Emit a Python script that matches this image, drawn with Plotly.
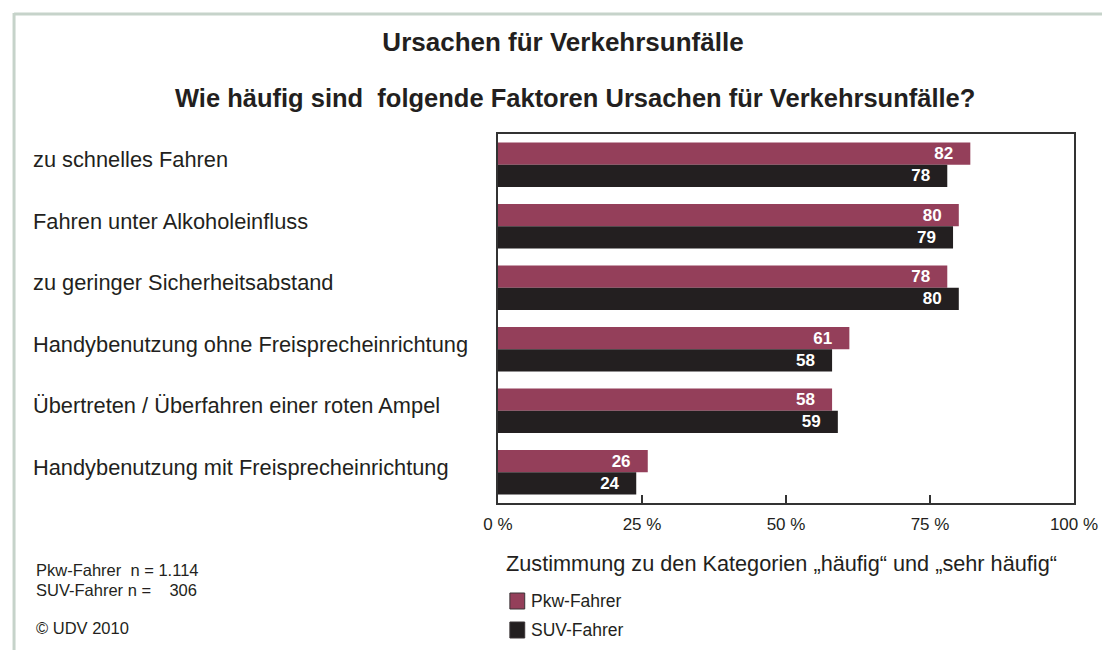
import plotly.graph_objects as go

categories = [
    "zu schnelles Fahren",
    "Fahren unter Alkoholeinfluss",
    "zu geringer Sicherheitsabstand",
    "Handybenutzung ohne Freisprecheinrichtung",
    "Übertreten / Überfahren einer roten Ampel",
    "Handybenutzung mit Freisprecheinrichtung",
]
pkw = [82, 80, 78, 61, 58, 26]
suv = [78, 79, 80, 58, 59, 24]
series_names = ["Pkw-Fahrer", "SUV-Fahrer"]
tick_vals = [0, 25, 50, 75, 100]
tick_text = ["0 %", "25 %", "50 %", "75 %", "100 %"]

PKW_COLOR = "#943f5a"
SUV_COLOR = "#231f20"
TEXT = "#231f20"
FONT = "Liberation Sans, Arial, sans-serif"

# page body margin offset (8px) compensation
OFF = 8
W, H = 1110 - OFF, 650 - OFF
L, T = 498 - OFF, 134 - OFF
pw, ph = 582, 369
R = W - L - pw
B = H - T - ph


def px(x):
    return (x - OFF - L) / pw


def py(y):
    return (H - B - (y - OFF)) / ph


fig = go.Figure()
pad = "\u00a0\u00a0\u00a0"
for name, vals, col in [(series_names[0], pkw, PKW_COLOR), (series_names[1], suv, SUV_COLOR)]:
    fig.add_trace(go.Bar(
        y=categories, x=vals, orientation="h", name=name,
        marker=dict(color=col, line=dict(width=0)),
        text=[f"{v}{pad}" for v in vals], textposition="inside", insidetextanchor="end",
        textfont=dict(color="white", size=17, family=FONT, weight="bold"),
        constraintext="none",
        hoverinfo="skip", showlegend=False,
    ))

annotations = []
for c in categories:
    annotations.append(dict(
        x=px(26), xref="paper", y=c, yref="y", yshift=5,
        text=c, showarrow=False, xanchor="left", yanchor="middle",
        font=dict(size=21.8, color=TEXT, family=FONT),
    ))

annotations += [
    dict(x=px(576), xref="paper", y=py(98), yref="paper",
         text="<b>Wie häufig sind  folgende Faktoren Ursachen für Verkehrsunfälle?</b>",
         showarrow=False, xanchor="center", yanchor="middle",
         font=dict(size=25.5, color=TEXT, family=FONT)),
    dict(x=px(504), xref="paper", y=py(563), yref="paper",
         text="Zustimmung zu den Kategorien „häufig“ und „sehr häufig“",
         showarrow=False, xanchor="left", yanchor="middle",
         font=dict(size=21.7, color=TEXT, family=FONT)),
    dict(x=px(29), xref="paper", y=py(570), yref="paper",
         text="Pkw-Fahrer  n = 1.114", showarrow=False, xanchor="left", yanchor="middle",
         font=dict(size=16.5, color=TEXT, family=FONT)),
    dict(x=px(29), xref="paper", y=py(590), yref="paper",
         text="SUV-Fahrer n =    306", showarrow=False, xanchor="left", yanchor="middle",
         font=dict(size=16.5, color=TEXT, family=FONT)),
    dict(x=px(29), xref="paper", y=py(628), yref="paper",
         text="© UDV 2010", showarrow=False, xanchor="left", yanchor="middle",
         font=dict(size=16.5, color=TEXT, family=FONT)),
]

shapes = [
    dict(type="line", xref="paper", yref="paper", x0=px(9), x1=px(1120), y0=py(14), y1=py(14),
         line=dict(color="#c6d3ca", width=3)),
    dict(type="line", xref="paper", yref="paper", x0=px(9), x1=px(9), y0=py(13), y1=py(660),
         line=dict(color="#c6d3ca", width=3)),
]

# custom legend (squares + labels)
for i, (name, col) in enumerate([(series_names[0], PKW_COLOR), (series_names[1], SUV_COLOR)]):
    cy = 601 + i * 29
    shapes.append(dict(type="rect", xref="paper", yref="paper",
                       x0=px(510), x1=px(525), y0=py(cy - 8), y1=py(cy + 8),
                       fillcolor=col, line=dict(color="#3a3436", width=1)))
    annotations.append(dict(x=px(529), xref="paper", y=py(cy), yref="paper",
                            text=name, showarrow=False, xanchor="left", yanchor="middle",
                            font=dict(size=17.5, color=TEXT, family=FONT)))

fig.update_layout(
    width=W, height=H,
    margin=dict(l=L, r=R, t=T, b=B, pad=0),
    paper_bgcolor="white", plot_bgcolor="white",
    barmode="group", bargap=0.28, bargroupgap=0,
    title=dict(text="<b>Ursachen für Verkehrsunfälle</b>", x=(563 - OFF) / W, xanchor="center",
               y=1 - (42 - OFF) / H, yanchor="middle", yref="container",
               font=dict(size=26, color=TEXT, family=FONT)),
    xaxis=dict(range=[0, 100], tickvals=tick_vals, ticktext=tick_text,
               ticks="inside", ticklen=8, tickwidth=1.5, tickcolor="#333",
               showline=True, linecolor="#333", linewidth=2, mirror=True,
               showgrid=False, zeroline=False, fixedrange=True,
               ticklabelstandoff=5,
               tickfont=dict(size=17, color=TEXT, family=FONT)),
    yaxis=dict(autorange="reversed", showticklabels=False, ticks="",
               showline=True, linecolor="#333", linewidth=2, mirror=True,
               showgrid=False, fixedrange=True),
    annotations=annotations, shapes=shapes,
    showlegend=False,
)

fig.write_html("out.html")
